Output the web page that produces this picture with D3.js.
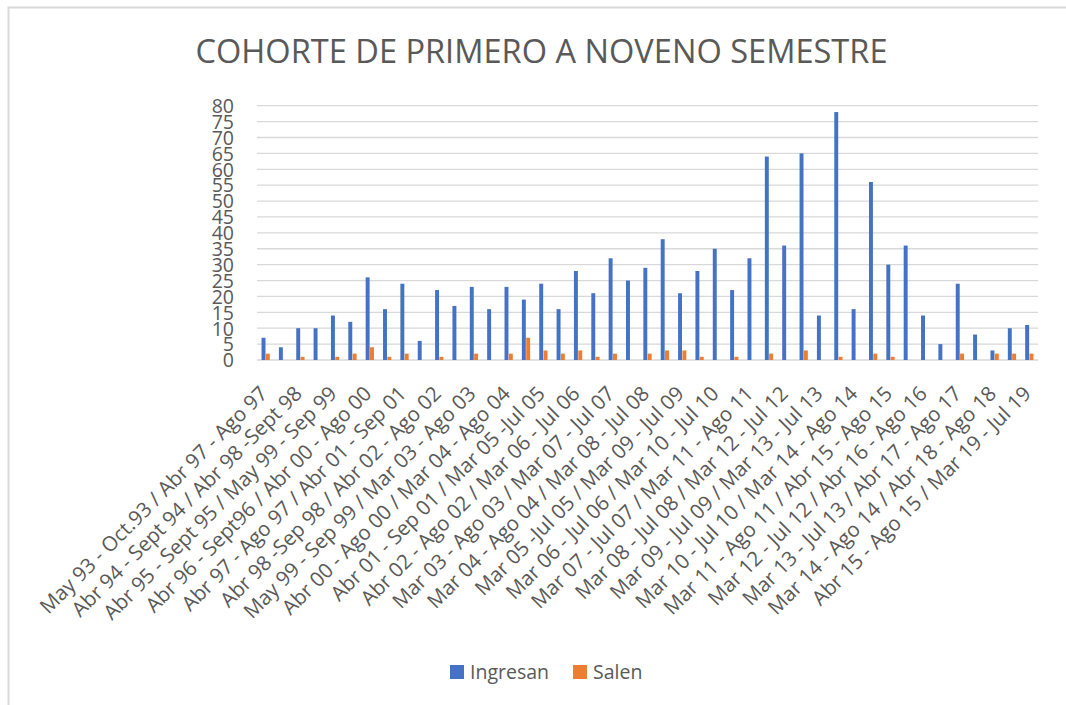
<!DOCTYPE html>
<html><head><meta charset="utf-8">
<script src="https://cdn.jsdelivr.net/npm/d3@7"></script>
<style>
html,body{margin:0;padding:0;background:#fff;}
svg{display:block;}
text{font-family:"Open Sans",sans-serif;fill:#595959;}
</style></head>
<body>
<svg id="chart" width="1066" height="705"></svg>
<script>
const title = "COHORTE DE PRIMERO A NOVENO SEMESTRE";
const categories = [
"May 93 - Oct.93 / Abr 97 - Ago 97",
"Oct 93 - Mar 94 / Sep 97 - Feb 98",
"Abr 94 - Sept 94 / Abr 98 -Sept 98",
"Oct 94 - Mar 95 / Oct 98 - Mar 99",
"Abr 95 - Sept 95 / May 99 - Sep 99",
"Oct 95 - Mar 96 / Oct 99 - Mar 00",
"Abr 96 - Sept96 / Abr 00 - Ago 00",
"Sep 96 - Mar 97 / Sep 00 - Mar 01",
"Abr 97 - Ago 97 / Abr 01 - Sep 01",
"Sep 97 - Mar 98 / Oct 01 - Mar 02",
"Abr 98 -Sep 98 / Abr 02 - Ago 02",
"Oct 98 - Mar 99 / Sep 02 - Feb 03",
"May 99 - Sep 99 / Mar 03 - Ago 03",
"Oct 99 - Mar 00 / Sep 03 - Feb 04",
"Abr 00 - Ago 00 / Mar 04 - Ago 04",
"Sep 00 - Mar 01 / Sep 04 - Feb 05",
"Abr 01 - Sep 01 / Mar 05 -Jul 05",
"Oct 01 - Mar 02 / Ago 05 - Feb 06",
"Abr 02 - Ago 02 / Mar 06 - Jul 06",
"Sep 02 - Feb 03 / Ago 06 - Feb 07",
"Mar 03 - Ago 03 / Mar 07 - Jul 07",
"Sep 03 - Feb 04 / Ago 07 - Feb 08",
"Mar 04 - Ago 04 / Mar 08 - Jul 08",
"Sep 04 - Feb 05 / Ago 08 - Feb 09",
"Mar 05 -Jul 05 / Mar 09 - Jul 09",
"Ago 05 - Feb 06 / Ago 09 - Feb 10",
"Mar 06 - Jul 06 / Mar 10 - Jul 10",
"Ago 06 - Feb 07 / Ago 10 - Feb 11",
"Mar 07 - Jul 07 / Mar 11 - Ago 11",
"Ago 07 - Feb 08 / Sep 11 - Feb 12",
"Mar 08 - Jul 08 / Mar 12 - Jul 12",
"Ago 08 - Feb 09 / Ago 12 - Feb 13",
"Mar 09 - Jul 09  / Mar 13 - Jul 13",
"Ago 09 - Feb 10 / Ago 13 - Feb 14",
"Mar 10 - Jul 10 / Mar 14 - Ago 14",
"Ago 10 - Feb 11 / Sep 14 - Feb 15",
"Mar 11 - Ago 11 / Abr 15 - Ago 15",
"Sep 11 - Feb 12 / Sep 15 - Mar 16",
"Mar 12 - Jul 12 / Abr 16 - Ago 16",
"Ago 12 - Feb 13 / Sep 16 - Mar 17",
"Mar 13 - Jul 13 / Abr 17 - Ago 17",
"Ago 13 - Feb 14 / Sep 17 - Mar 18",
"Mar 14 - Ago 14 / Abr 18 - Ago 18",
"Sep 14 - Feb 15 / Sep 18 - Mar 19",
"Abr 15 - Ago 15 / Mar 19 - Jul 19"
];
const ingresan = [7,4,10,10,14,12,26,16,24,6,22,17,23,16,23,19,24,16,28,21,32,25,29,38,21,28,35,22,32,64,36,65,14,78,16,56,30,36,14,5,24,8,3,10,11];
const salen    = [2,0,1,0,1,2,4,1,2,0,1,0,2,0,2,7,3,2,3,1,2,0,2,3,3,1,0,1,0,2,0,3,0,1,0,2,1,0,0,0,2,0,2,2,2];
const seriesNames = ["Ingresan","Salen"];
const colors = ["#4472C4","#ED7D31"];
const yTicks = d3.range(0, 81, 5);

const svg = d3.select("#chart");
// chart border
svg.append("path").attr("d","M8.5,705 L8.5,7.5 L1066,7.5")
  .attr("fill","none").attr("stroke","#d9d9d9").attr("stroke-width",2);

const plotL = 257, plotR = 1038, plotT = 105.7, plotB = 360;
const x = d3.scaleBand().domain(categories).range([plotL, plotR]).paddingInner(0.5).paddingOuter(0.25);
const xs = d3.scaleBand().domain(seriesNames).range([0, x.bandwidth()]);
const y = d3.scaleLinear().domain([0, 80]).range([plotB, plotT]);

// gridlines
svg.append("g").selectAll("line").data(yTicks).join("line")
  .attr("x1", plotL).attr("x2", plotR)
  .attr("y1", d => y(d)).attr("y2", d => y(d))
  .attr("stroke", "#d9d9d9").attr("stroke-width", 1.3);

// y labels
const yAxis = d3.axisLeft(y).tickValues(yTicks).tickSize(0).tickPadding(0);
const gy = svg.append("g").attr("transform", `translate(234,0)`).call(yAxis);
gy.select(".domain").remove();
gy.selectAll("text").attr("font-size", 19.5).attr("fill","#595959")
  .style("font-family","'Open Sans',sans-serif").attr("dy","0.35em");

// bars
const rows = categories.map((c, i) => ({c, vals: [ingresan[i], salen[i]]}));
const groups = svg.append("g").selectAll("g").data(rows).join("g")
  .attr("transform", d => `translate(${x(d.c)},0)`);
groups.selectAll("rect").data(d => d.vals.map((v, k) => ({k, v})).filter(o => o.v > 0)).join("rect")
  .attr("x", o => xs(seriesNames[o.k]) + 0.2)
  .attr("width", xs.bandwidth() - 0.4)
  .attr("y", o => y(o.v))
  .attr("height", o => plotB - y(o.v))
  .attr("fill", o => colors[o.k]);

// x labels (every other category, like the original)
const xAxis = d3.axisBottom(x).tickValues(categories.filter((c, i) => i % 2 === 0)).tickSize(0);
const gx = svg.append("g").attr("transform", `translate(0,${plotB})`).call(xAxis);
gx.select(".domain").remove();
gx.selectAll(".tick text")
  .attr("font-size", 20.5).attr("fill","#595959")
  .style("font-family","'Open Sans',sans-serif")
  .attr("text-anchor","end").attr("x", 0).attr("y", 0).attr("dy", null)
  .attr("transform","translate(3,35) rotate(-45)");

// title
svg.append("text").attr("x", 541.5).attr("y", 63).attr("text-anchor","middle")
  .attr("font-size", 33).attr("textLength", 692).attr("lengthAdjust","spacingAndGlyphs")
  .text(title);

// legend
const leg = svg.append("g");
const legX = [450, 573];
seriesNames.forEach((n, k) => {
  leg.append("rect").attr("x", legX[k]).attr("y", 665).attr("width", 14).attr("height", 14).attr("fill", colors[k]);
  leg.append("text").attr("x", legX[k] + 20).attr("y", 679).attr("font-size", 19.5).text(n);
});
</script>
</body></html>
